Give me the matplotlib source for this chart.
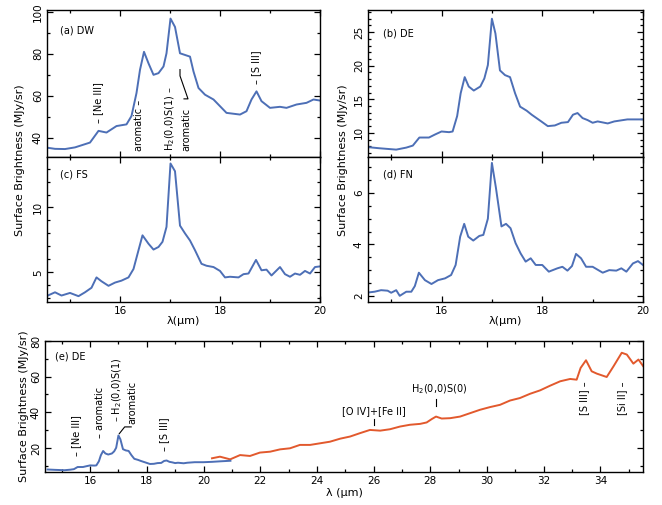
import matplotlib
matplotlib.use("Agg")
import matplotlib.pyplot as plt
from matplotlib.ticker import MultipleLocator

plt.rcParams['font.family'] = ['DejaVu Sans']

# ---------------- data ----------------
dw_wl = [14.50, 14.70, 14.90, 15.10, 15.40, 15.57, 15.73, 15.93, 16.13, 16.23, 16.33, 16.40,
         16.48, 16.57, 16.67, 16.77, 16.87, 16.93, 17.01, 17.10, 17.20, 17.30, 17.40, 17.47,
         17.57, 17.70, 17.87, 18.13, 18.40, 18.53, 18.63, 18.73, 18.83, 19.00, 19.20, 19.33,
         19.53, 19.73, 19.87, 20.00]
dw_val = [35.3, 34.6, 34.5, 35.3, 37.6, 43.2, 42.4, 45.5, 46.3, 50.3, 61.3, 72.4,
          81.0, 75.5, 70.0, 70.8, 74.0, 80.3, 96.9, 92.9, 80.3, 79.5, 78.7, 71.6,
          63.7, 60.5, 58.2, 51.8, 51.0, 52.6, 58.2, 62.1, 57.4, 54.2, 54.7, 54.2,
          55.8, 56.6, 58.2, 57.7]

de_wl = [14.50, 14.77, 15.10, 15.30, 15.43, 15.56, 15.75, 15.87, 16.00, 16.15, 16.22, 16.31,
         16.38, 16.46, 16.54, 16.64, 16.77, 16.85, 16.92, 17.00, 17.07, 17.16, 17.26, 17.36,
         17.46, 17.56, 17.69, 17.79, 17.98, 18.11, 18.25, 18.38, 18.51, 18.61, 18.70, 18.80,
         18.90, 19.00, 19.10, 19.30, 19.43, 19.69, 20.00, 20.30, 20.60, 20.95]
de_val = [7.9, 7.7, 7.5, 7.8, 8.1, 9.3, 9.3, 9.75, 10.2, 10.1, 10.2, 12.5,
          15.9, 18.3, 16.9, 16.3, 16.9, 18.1, 20.1, 27.0, 24.8, 19.3, 18.6, 18.3,
          15.9, 13.9, 13.3, 12.7, 11.7, 11.0, 11.1, 11.5, 11.6, 12.7, 12.95, 12.2,
          11.9, 11.5, 11.7, 11.4, 11.7, 12.0, 12.0, 12.2, 12.5, 12.8]

fs_wl = [14.50, 14.70, 14.83, 15.00, 15.17, 15.30, 15.43, 15.53, 15.63, 15.77, 15.90, 16.03,
         16.17, 16.27, 16.37, 16.45, 16.57, 16.67, 16.77, 16.85, 16.93, 17.01, 17.10, 17.20,
         17.30, 17.40, 17.50, 17.63, 17.73, 17.87, 18.00, 18.10, 18.20, 18.37, 18.47, 18.57,
         18.72, 18.83, 18.93, 19.03, 19.20, 19.30, 19.40, 19.50, 19.60, 19.70, 19.80, 19.90,
         20.00]
fs_val = [3.1, 3.45, 3.2, 3.4, 3.15, 3.45, 3.8, 4.6, 4.3, 3.95, 4.2, 4.35,
          4.6, 5.25, 6.7, 7.85, 7.2, 6.75, 6.95, 7.35, 8.5, 13.4, 12.8, 8.6,
          8.0, 7.45, 6.7, 5.65, 5.5, 5.4, 5.1, 4.6, 4.65, 4.6, 4.85, 4.9,
          5.95, 5.15, 5.2, 4.75, 5.4, 4.85, 4.65, 4.9, 4.8, 5.1, 4.9, 5.4,
          5.45]

fn_wl = [14.50, 14.67, 14.80, 14.93, 15.00, 15.10, 15.17, 15.30, 15.40, 15.47, 15.55, 15.67,
         15.80, 15.93, 16.07, 16.19, 16.28, 16.37, 16.45, 16.53, 16.63, 16.75, 16.83, 16.92,
         17.00, 17.08, 17.19, 17.28, 17.37, 17.47, 17.57, 17.67, 17.77, 17.87, 18.00, 18.13,
         18.30, 18.40, 18.50, 18.59, 18.67, 18.77, 18.87, 19.00, 19.20, 19.33, 19.47, 19.57,
         19.67, 19.80, 19.90, 20.00]
fn_val = [2.12, 2.16, 2.22, 2.2, 2.12, 2.22, 2.0, 2.16, 2.16, 2.38, 2.9, 2.61,
          2.46, 2.61, 2.68, 2.81, 3.2, 4.3, 4.8, 4.3, 4.15, 4.33, 4.37, 5.0,
          7.17, 6.2, 4.7, 4.8, 4.63, 4.05, 3.65, 3.33, 3.46, 3.2, 3.2, 2.94,
          3.07, 3.13, 2.98, 3.16, 3.63, 3.46, 3.13, 3.13, 2.9, 3.0, 2.98, 3.07,
          2.94, 3.26, 3.35, 3.2]

lh_wl = [20.30, 20.58, 20.94, 21.29, 21.64, 21.99, 22.35, 22.70, 23.05, 23.40, 23.76, 24.11,
         24.46, 24.82, 25.17, 25.52, 25.87, 26.23, 26.58, 26.93, 27.28, 27.64, 27.87, 28.05,
         28.20, 28.40, 28.70, 29.05, 29.40, 29.75, 30.10, 30.46, 30.81, 31.16, 31.52, 31.87,
         32.22, 32.58, 32.93, 33.16, 33.30, 33.49, 33.69, 33.87, 34.22, 34.46, 34.75, 34.93,
         35.16, 35.34, 35.51]
lh_val = [14.2, 15.1, 13.6, 16.0, 15.5, 17.4, 17.9, 19.2, 19.8, 21.7, 21.7, 22.6,
          23.5, 25.2, 26.4, 28.3, 30.1, 29.7, 30.5, 32.0, 33.0, 33.5, 34.3, 36.2,
          37.6, 36.5, 36.7, 37.6, 39.5, 41.4, 42.9, 44.2, 46.6, 48.0, 50.4, 52.3,
          54.9, 57.4, 58.7, 58.3, 64.9, 69.2, 63.0, 61.7, 59.8, 65.8, 73.4, 72.4,
          67.3, 69.6, 65.8]

BLUE = '#4d6fb6'
RED = '#e2592d'
LW = 1.4
YLAB = 'Surface Brightness (MJy/sr)'
FS_TICK = 7.5
FS_ANN = 7

W, H = 662, 505
fig = plt.figure(figsize=(W / 100, H / 100), dpi=100)


def add_ax(l, t, r, b):
    return fig.add_axes([l / W, 1 - b / H, (r - l) / W, (b - t) / H])


def style(ax, xmaj, xmin, ymaj, ymin, xlabels=True):
    ax.xaxis.set_major_locator(MultipleLocator(xmaj))
    ax.xaxis.set_minor_locator(MultipleLocator(xmin))
    ax.yaxis.set_major_locator(MultipleLocator(ymaj))
    ax.yaxis.set_minor_locator(MultipleLocator(ymin))
    ax.tick_params(which='both', direction='in', top=True, right=True,
                   labelsize=FS_TICK, width=0.9)
    ax.tick_params(which='major', length=4.5)
    ax.tick_params(which='minor', length=2.5)
    ax.tick_params(axis='y', labelrotation=90, pad=3)
    ax.tick_params(axis='x', pad=3, labelbottom=xlabels)
    for lab in ax.get_yticklabels():
        lab.set_va('center')
    for s in ax.spines.values():
        s.set_linewidth(1.0)


# ---------------- panel a ----------------
axa = add_ax(47, 10, 320, 157)
axa.plot(dw_wl, dw_val, color=BLUE, lw=LW)
axa.set_xlim(14.54, 20)
axa.set_ylim(30.7, 101)
style(axa, 2, 1, 20, 10, xlabels=False)
axa.text(0.048, 0.86, '(a) DW', transform=axa.transAxes, fontsize=FS_ANN, va='center')
axa.text(15.57, 47, '– [Ne III]', rotation=90, ha='center', va='bottom', fontsize=FS_ANN)
axa.text(16.38, 33.8, 'aromatic –', rotation=90, ha='center', va='bottom', fontsize=FS_ANN)
axa.text(17.0, 33.8, 'H$_2$(0,0)S(1) –', rotation=90, ha='center', va='bottom', fontsize=FS_ANN)
axa.text(17.32, 33.8, 'aromatic', rotation=90, ha='center', va='bottom', fontsize=FS_ANN)
axa.plot([17.2, 17.2, 17.36, 17.28], [72.5, 69.5, 58.5, 58.5], color='k', lw=0.8)
axa.text(18.72, 65.5, '– [S III]', rotation=90, ha='center', va='bottom', fontsize=FS_ANN)

# ---------------- panel c ----------------
axc = add_ax(47, 157, 320, 302)
axc.plot(fs_wl, fs_val, color=BLUE, lw=LW)
axc.set_xlim(14.54, 20)
axc.set_ylim(2.7, 13.9)
style(axc, 2, 1, 5, 1)
axc.text(0.048, 0.876, '(c) FS', transform=axc.transAxes, fontsize=FS_ANN, va='center')
axc.set_xlabel('λ(μm)', fontsize=8, labelpad=0)

# ---------------- panel b ----------------
axb = add_ax(368, 10, 643, 157)
axb.plot(de_wl, de_val, color=BLUE, lw=LW)
axb.set_xlim(14.54, 20)
axb.set_ylim(6.4, 28.3)
style(axb, 2, 1, 5, 1, xlabels=False)
axb.text(0.055, 0.84, '(b) DE', transform=axb.transAxes, fontsize=FS_ANN, va='center')

# ---------------- panel d ----------------
axd = add_ax(368, 157, 643, 302)
axd.plot(fn_wl, fn_val, color=BLUE, lw=LW)
axd.set_xlim(14.54, 20)
axd.set_ylim(1.76, 7.4)
style(axd, 2, 1, 2, 0.5)
axd.text(0.055, 0.876, '(d) FN', transform=axd.transAxes, fontsize=FS_ANN, va='center')
axd.set_xlabel('λ(μm)', fontsize=8, labelpad=0)

fig.text(20 / W, 1 - 160 / H, YLAB, rotation=90, ha='center', va='center', fontsize=8)
fig.text(343 / W, 1 - 160 / H, YLAB, rotation=90, ha='center', va='center', fontsize=8)

# ---------------- panel e ----------------
axe = add_ax(45, 341, 643, 472)
axe.plot(lh_wl, lh_val, color=RED, lw=LW)
axe.plot(de_wl, de_val, color=BLUE, lw=LW)
axe.set_xlim(14.41, 35.5)
axe.set_ylim(6.5, 80)
style(axe, 2, 1, 20, 10)
axe.set_xlabel('λ (μm)', fontsize=8, labelpad=1)
axe.set_ylabel(YLAB, fontsize=8, labelpad=1)
axe.text(0.017, 0.88, '(e) DE', transform=axe.transAxes, fontsize=FS_ANN, va='center')
axe.text(15.5, 15.5, '– [Ne III]', rotation=90, ha='center', va='bottom', fontsize=FS_ANN)
axe.text(16.35, 25.5, '– aromatic', rotation=90, ha='center', va='bottom', fontsize=FS_ANN)
axe.text(16.95, 34.5, '– H$_2$(0,0)S(1)', rotation=90, ha='center', va='bottom', fontsize=FS_ANN)
axe.text(17.5, 33.5, 'aromatic', rotation=90, ha='center', va='bottom', fontsize=FS_ANN)
axe.plot([17.03, 17.22, 17.45], [28.0, 31.8, 31.8], color='k', lw=0.8)
axe.text(18.62, 18.5, '– [S III]', rotation=90, ha='center', va='bottom', fontsize=FS_ANN)
axe.text(26.0, 38.0, '[O IV]+[Fe II]', ha='center', va='bottom', fontsize=FS_ANN)
axe.plot([26.0, 26.0], [33.0, 36.5], color='k', lw=0.8)
axe.text(28.3, 49.0, 'H$_2$(0,0)S(0)', ha='center', va='bottom', fontsize=FS_ANN)
axe.plot([28.2, 28.2], [43.5, 47.5], color='k', lw=0.8)
axe.text(33.42, 57.5, '[S III] –', rotation=90, ha='center', va='top', fontsize=FS_ANN)
axe.text(34.78, 57.5, '[Si II] –', rotation=90, ha='center', va='top', fontsize=FS_ANN)

fig.savefig('out.png', dpi=100)
